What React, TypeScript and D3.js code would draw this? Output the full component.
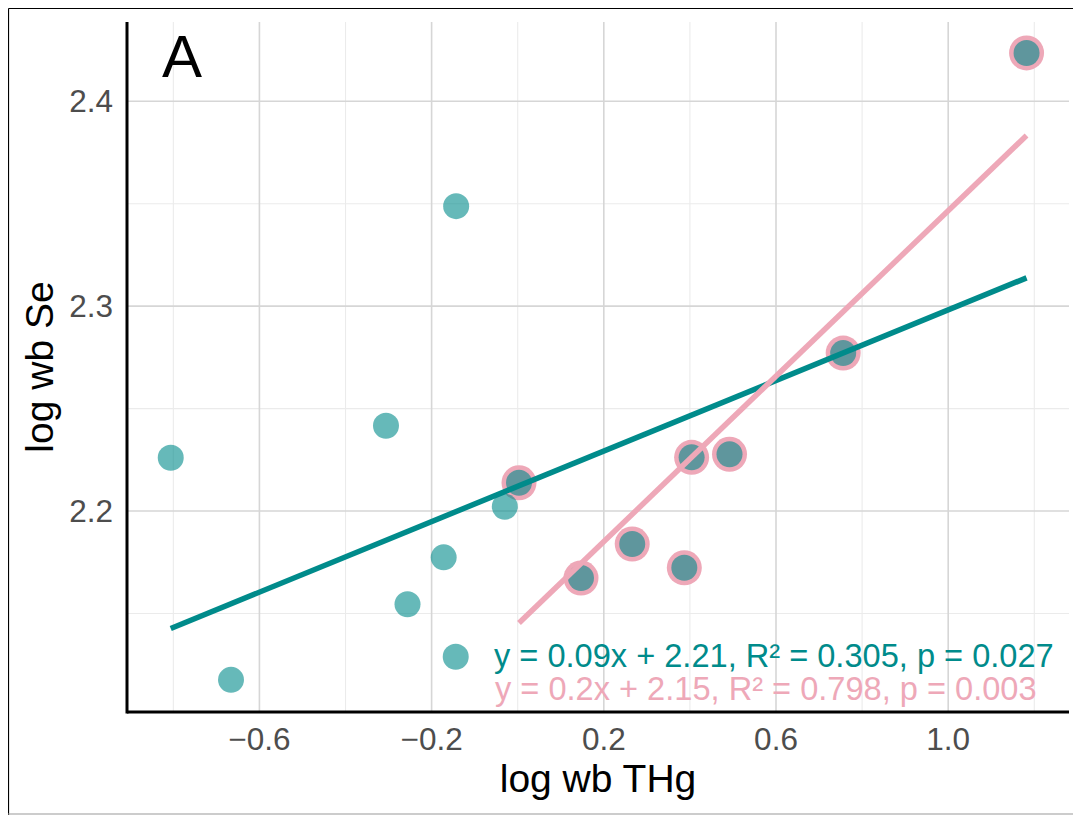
import React from "react";
import * as d3 from "d3";

// log wb THg (x) and log wb Se (y) for every fish
const xAll = [-0.806, -0.666, -0.306, -0.143, -0.144, -0.256, -0.172, -0.030, 0.003, 0.147, 0.266, 0.387, 0.404, 0.492, 0.756, 1.182];
const yAll = [2.2260, 2.1176, 2.2416, 2.3488, 2.1289, 2.1545, 2.1774, 2.2021, 2.2138, 2.1673, 2.1839, 2.1723, 2.2262, 2.2277, 2.2771, 2.4236];
// subset highlighted in pink (indices into the arrays above)
const subsetIdx = [8, 9, 10, 11, 12, 13, 14, 15];

const xTicks = [-0.6, -0.2, 0.2, 0.6, 1.0];
const xMinor = [-0.8, -0.4, 0.0, 0.4, 0.8, 1.2];
const yTicks = [2.2, 2.3, 2.4];
const yMinor = [2.15, 2.25, 2.35];

const eqAll = "y = 0.09x + 2.21, R\u00b2 = 0.305, p = 0.027";
const eqSub = "y = 0.2x + 2.15, R\u00b2 = 0.798, p = 0.003";

const TEAL = "#008b8b";
const PINK = "#eea8b8";
const FONT = "'Liberation Sans', Arial, Helvetica, sans-serif";

function fit(xs: number[], ys: number[]) {
  const mx = d3.mean(xs)!;
  const my = d3.mean(ys)!;
  let sxy = 0, sxx = 0;
  xs.forEach((x, i) => { sxy += (x - mx) * (ys[i] - my); sxx += (x - mx) * (x - mx); });
  const b = sxy / sxx;
  const a = my - b * mx;
  const [x0, x1] = d3.extent(xs) as [number, number];
  return [[x0, a + b * x0], [x1, a + b * x1]] as [number, number][];
}

export default function App() {
  const W = 1073, H = 807;
  const L = 119, R = 1061, T = 14, B = 704;
  const x = d3.scaleLinear().domain([-0.9076, 1.2806]).range([L, R]);
  const y = d3.scaleLinear().domain([2.1019, 2.4387]).range([B, T]);

  const pts = xAll.map((v, i) => ({ x: v, y: yAll[i] }));
  const sub = subsetIdx.map(i => pts[i]);
  const lineAll = fit(xAll, yAll);
  const lineSub = fit(sub.map(p => p.x), sub.map(p => p.y));
  const line = d3.line<[number, number]>().x(d => x(d[0])).y(d => y(d[1]));

  return (
    <svg width={W} height={H} style={{ display: "block", fontFamily: FONT }}>
      <rect x={0} y={0} width={W} height={H} fill="#fff" />
      {/* frame */}
      <line x1={0.5} y1={0.5} x2={W} y2={0.5} stroke="#000" strokeWidth={1.2} />
      <line x1={0.5} y1={0.5} x2={0.5} y2={H} stroke="#000" strokeWidth={1.2} />
      <line x1={0} y1={806} x2={W} y2={806} stroke="#999" strokeWidth={1} />
      <line x1={1072} y1={0} x2={1072} y2={H} stroke="#999" strokeWidth={1} />

      {/* grid */}
      {xMinor.map(v => <line key={"xm" + v} x1={x(v)} x2={x(v)} y1={T} y2={B} stroke="#ebebeb" strokeWidth={1.1} />)}
      {yMinor.map(v => <line key={"ym" + v} x1={L} x2={R} y1={y(v)} y2={y(v)} stroke="#ebebeb" strokeWidth={1.1} />)}
      {xTicks.map(v => <line key={"xg" + v} x1={x(v)} x2={x(v)} y1={T} y2={B} stroke="#d6d6d6" strokeWidth={1.6} />)}
      {yTicks.map(v => <line key={"yg" + v} x1={L} x2={R} y1={y(v)} y2={y(v)} stroke="#d6d6d6" strokeWidth={1.6} />)}

      {/* pink halo points (subset) */}
      {sub.map((p, i) => <circle key={"s" + i} cx={x(p.x)} cy={y(p.y)} r={17.5} fill={PINK} />)}
      {/* all points */}
      {pts.map((p, i) => <circle key={"p" + i} cx={x(p.x)} cy={y(p.y)} r={13} fill={TEAL} fillOpacity={0.6} />)}

      {/* regression lines */}
      <path d={line(lineAll)!} stroke={TEAL} strokeWidth={5.5} fill="none" />
      <path d={line(lineSub)!} stroke={PINK} strokeWidth={5.5} fill="none" />

      {/* equations */}
      <text x={486} y={659} fontSize={32.6} fill={TEAL}>{eqAll}</text>
      <text x={487} y={692} fontSize={32.6} fill={PINK}>{eqSub}</text>

      {/* axes */}
      <line x1={L} x2={R} y1={B} y2={B} stroke="#000" strokeWidth={3} />
      <line x1={L} x2={L} y1={T} y2={B + 1.5} stroke="#000" strokeWidth={3} />

      {xTicks.map(v => (
        <text key={"xt" + v} x={x(v)} y={742} fontSize={31.5} fill="#4d4d4d" textAnchor="middle">{d3.format(".1f")(v)}</text>
      ))}
      {yTicks.map(v => (
        <text key={"yt" + v} x={105} y={y(v)} dy="0.35em" fontSize={31.5} fill="#4d4d4d" textAnchor="end">{d3.format(".1f")(v)}</text>
      ))}

      <text x={(L + R) / 2} y={784} fontSize={39} fill="#000" textAnchor="middle">log wb THg</text>
      <text transform={`translate(${45},${(T + B) / 2}) rotate(-90)`} fontSize={39} fill="#000" textAnchor="middle">log wb Se</text>

      <text x={154} y={69} fontSize={60} fill="#000">A</text>
    </svg>
  );
}
